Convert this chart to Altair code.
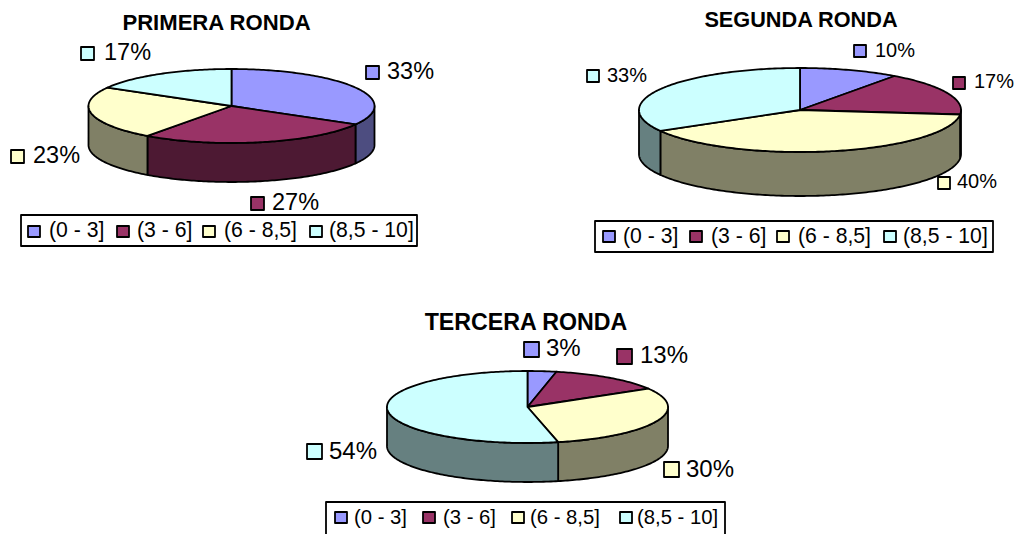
import math
import altair as alt
import pandas as pd

# ---- chart values -------------------------------------------------
categories = ["(0 - 3]", "(3 - 6]", "(6 - 8,5]", "(8,5 - 10]"]
primera = [33.3, 26.7, 23.3, 16.7]
segunda = [10.0, 16.7, 40.0, 33.3]
tercera = [3.3, 13.2, 30.0, 53.5]
titles = ["PRIMERA RONDA", "SEGUNDA RONDA", "TERCERA RONDA"]

# ---- styles -------------------------------------------------------
TOP = ["#9999FF", "#993366", "#FFFFCC", "#CCFFFF"]
WALL = ["#4D4D80", "#4D1933", "#808066", "#668080"]
FONT = "Liberation Sans"

# ---- layout (page pixels) -----------------------------------------
# cx, cy, rx, ry, depth
PIES = [(231.5, 106, 143, 37, 39), (800, 110, 161, 42, 44), (527.5, 407, 140.5, 36, 39)]
LABEL_LAYOUT = [
    # swatch x0, y0, size, text x, text y
    [(366, 66, 13, 387, 72), (251, 197, 13, 272, 203), (11, 150, 13, 33, 156), (81, 47, 13, 104, 53)],
    [(854, 45, 12, 875, 51), (953, 77, 12, 974, 82), (938, 177, 12, 957, 182), (587, 70, 12, 607, 76)],
    [(524, 342, 15, 546, 349), (617, 349, 15, 640, 356), (664, 462, 15, 686, 470), (307, 444, 15, 329, 452)],
]
LABEL_SIZE = [23.5, 20, 24]
LEGENDS = [
    dict(box=(21, 215, 417, 246), sw_x=[28, 117, 203, 310], sw_y=226, tx=[49, 137, 224, 329], ty=231, size=21.2),
    dict(box=(595, 221, 993, 252), sw_x=[603, 690, 777, 884], sw_y=231, tx=[623, 711, 798, 903], ty=237, size=21.2),
    dict(box=(326, 502, 725, 545), sw_x=[335, 423, 512, 620], sw_y=512, tx=[354, 443, 530, 637], ty=518, size=20.3),
]
TITLE_POS = [(216.5, 23, 22.1), (801, 20, 21.7), (526, 323, 23.2)]


def pt(pie, deg, drop=0.0):
    cx, cy, rx, ry, _ = pie
    a = math.radians(deg)
    return [cx + rx * math.sin(a), cy - ry * math.cos(a) + drop]


def arc(pie, a0, a1, drop=0.0):
    n = max(2, int(abs(a1 - a0)) + 1)
    return [pt(pie, a0 + (a1 - a0) * i / n, drop) for i in range(n + 1)]


def feature(ring, fill):
    ring = ring + [ring[0]]
    return {
        "type": "Feature",
        "properties": {"fill": fill},
        "geometry": {"type": "Polygon", "coordinates": [ring]},
    }


def rect(x0, y0, x1, y1, fill):
    return feature([[x0, y0], [x1, y0], [x1, y1], [x0, y1]], fill)


features = []
series = [primera, segunda, tercera]
for pie, vals in zip(PIES, series):
    depth = pie[4]
    total = sum(vals)
    edges = [0.0]
    for v in vals:
        edges.append(edges[-1] + 360.0 * v / total)
    # outer walls (visible front half only)
    for i in range(len(vals)):
        a0, a1 = max(edges[i], 90.0), min(edges[i + 1], 270.0)
        if a1 > a0:
            features.append(feature(arc(pie, a0, a1) + arc(pie, a1, a0, depth), WALL[i]))
    # top faces
    for i in range(len(vals)):
        ring = [[pie[0], pie[1]]] + arc(pie, edges[i], edges[i + 1])
        features.append(feature(ring, TOP[i]))

# legend boxes and swatches
for lg in LEGENDS:
    features.append(rect(*lg["box"], "#FFFFFF"))
    for x, c in zip(lg["sw_x"], TOP):
        features.append(rect(x, lg["sw_y"], x + 12, lg["sw_y"] + 11, c))
for layout in LABEL_LAYOUT:
    for (x, y, s, _tx, _ty), c in zip(layout, TOP):
        features.append(rect(x, y, x + s, y + s, c))

rows = []
for layout, vals, fs in zip(LABEL_LAYOUT, series, LABEL_SIZE):
    for (_x, _y, _s, tx, ty), v in zip(layout, vals):
        rows.append({"lon": tx, "lat": ty, "text": f"{round(v + 1e-9)}%", "size": fs})
for lg in LEGENDS:
    for tx, c in zip(lg["tx"], categories):
        rows.append({"lon": tx, "lat": lg["ty"], "text": c, "size": lg["size"]})
text_df = pd.DataFrame(rows)

title_df = pd.DataFrame(
    [{"lon": x, "lat": y, "text": t, "size": s} for (x, y, s), t in zip(TITLE_POS, titles)]
)

shapes = (
    alt.Chart(alt.Data(values=features))
    .mark_geoshape(stroke="#000000", strokeWidth=1.8, strokeJoin="round")
    .encode(fill=alt.Fill("properties.fill:N", scale=None))
)

texts = (
    alt.Chart(text_df)
    .mark_text(align="left", baseline="middle", font=FONT, color="#000000")
    .encode(
        longitude="lon:Q",
        latitude="lat:Q",
        text="text:N",
        size=alt.Size("size:Q", scale=None),
    )
)

title_text = (
    alt.Chart(title_df)
    .mark_text(align="center", baseline="middle", font=FONT, fontWeight="bold", color="#000000")
    .encode(
        longitude="lon:Q",
        latitude="lat:Q",
        text="text:N",
        size=alt.Size("size:Q", scale=None),
    )
)

chart = (
    alt.layer(shapes, texts, title_text)
    .project(type="identity", scale=1, translate=[-8, -8])
    .properties(
        width=1007,
        height=526,
        padding=0,
        autosize=alt.AutoSizeParams(type="none"),
        background="#FFFFFF",
    )
    .configure_view(stroke=None)
)

chart.save("out.html", embed_options={"renderer": "svg", "actions": False})
